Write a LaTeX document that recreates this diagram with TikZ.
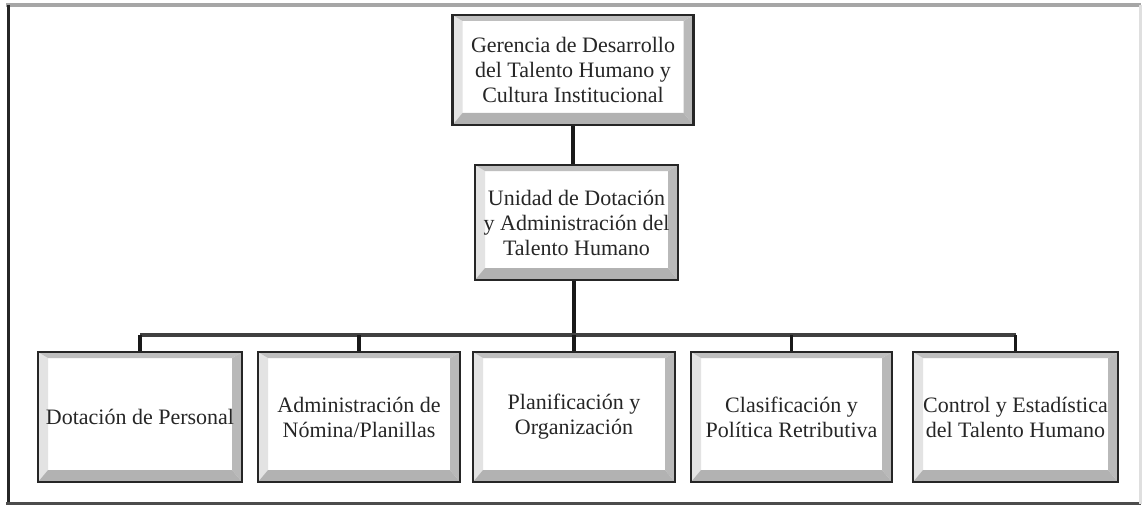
\documentclass[tikz,border=0pt]{standalone}
\usepackage{fontspec}
\setmainfont{Liberation Serif}
\usetikzlibrary{calc}
\tikzset{
  bev/.style={draw=black!85, line width=2.5pt, fill=white, inner sep=0pt, align=center,
    font=\fontsize{22}{25}\selectfont, text=black!85,
    path picture={
      \coordinate (SW) at (path picture bounding box.south west);
      \coordinate (NE) at (path picture bounding box.north east);
      \coordinate (NW) at (SW|-NE);
      \coordinate (SE) at (NE|-SW);
      \fill[gray!22] (SW) -- (NW) -- ($(NW)+(10pt,-6pt)$) -- ($(SW)+(10pt,12pt)$) -- cycle;
      \fill[gray!50] (NW) -- (NE) -- ($(NE)+(-10pt,-6pt)$) -- ($(NW)+(10pt,-6pt)$) -- cycle;
      \fill[gray!55] (NE) -- (SE) -- ($(SE)+(-10pt,12pt)$) -- ($(NE)+(-10pt,-6pt)$) -- cycle;
      \fill[gray!60] (SW) -- (SE) -- ($(SE)+(-10pt,12pt)$) -- ($(SW)+(10pt,12pt)$) -- cycle;
    }},
  conn/.style={draw=black!90, line width=3.5pt},
  busline/.style={draw=black!75, line width=3.5pt}
}
\begin{document}
\begin{tikzpicture}[x=1pt,y=-1pt]
\useasboundingbox (0,0) rectangle (1143,508);
\fill[white] (0,0) rectangle (1143,508);
% outer frame
\draw[gray!70, line width=4pt] (6,5) -- (1141,5);
\draw[black!85, line width=3pt] (8,5) -- (8,504);
\draw[black!70, line width=3pt] (6,503) -- (1141,503);
\draw[gray!25, line width=3pt] (1140,5) -- (1140,504);

\node[bev, minimum width=241pt, minimum height=110pt] (top) at (573,70)
  {Gerencia de Desarrollo\\del Talento Humano y\\Cultura Institucional};
\node[bev, minimum width=203pt, minimum height=115pt] (mid) at (576.5,222.5)
  {Unidad de Dotación\\y Administración del\\Talento Humano};

\node[bev, minimum width=204pt, minimum height=130pt] (b1) at (140,417) {Dotación de Personal};
\node[bev, minimum width=202pt, minimum height=130pt] (b2) at (359,417) {Administración de\\Nómina/Planillas};
\node[bev, minimum width=202pt, minimum height=130pt] (b3) at (574,417) {Planificación y\\Organización};
\node[bev, minimum width=201pt, minimum height=130pt] (b4) at (791.5,417) {Clasificación y\\Política Retributiva};
\node[bev, minimum width=205pt, minimum height=130pt] (b5) at (1015.5,417) {Control y Estadística\\del Talento Humano};

\coordinate (bus) at (574,335);
\draw[conn] (top.south) -- (top.south|-mid.north);
\draw[conn] (mid.south-|bus) -- (bus);
\draw[busline] (b1.north|-bus) -- (b5.north|-bus);
\foreach \b in {b1,b2,b3,b4,b5}{
  \draw[conn] (\b.north|-bus) -- (\b.north);
}
\end{tikzpicture}
\end{document}
